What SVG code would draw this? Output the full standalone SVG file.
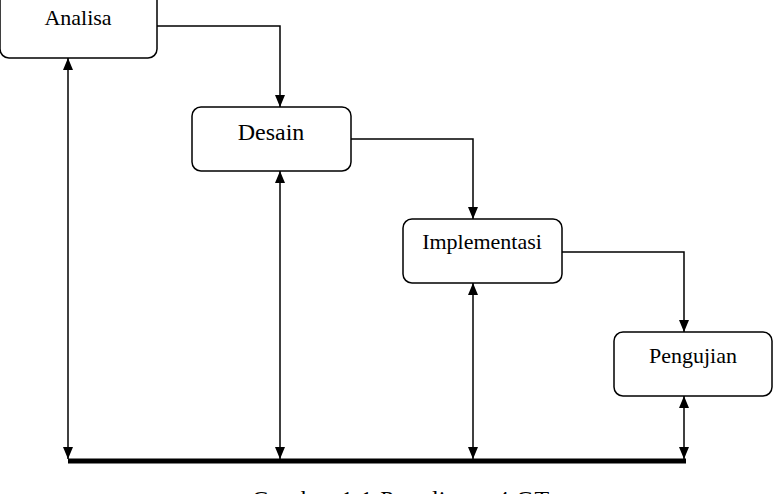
<svg xmlns="http://www.w3.org/2000/svg" width="780" height="494" viewBox="0 0 780 494">
<style>
.box{fill:#fff;stroke:#000;stroke-width:1.5}
.lbl{font-family:"Liberation Serif","Times New Roman",serif;font-size:22px;fill:#000;text-anchor:middle}
.ln{fill:none;stroke:#000;stroke-width:1.5}
</style>
<defs>
<marker id="ah" viewBox="0 0 12 10" refX="12" refY="5" markerWidth="12" markerHeight="10" markerUnits="userSpaceOnUse" orient="auto-start-reverse">
<path d="M0,0 L12,5 L0,10 Z" fill="#000"/>
</marker>
</defs>
<rect width="780" height="494" fill="#fff"/>
<g id="connectors">
<path class="ln" d="M157,26 H280 V107" marker-end="url(#ah)"/>
<path class="ln" d="M351,139 H473 V219" marker-end="url(#ah)"/>
<path class="ln" d="M562,252 H684 V332" marker-end="url(#ah)"/>
<line class="ln" x1="68" y1="58" x2="68" y2="459" marker-start="url(#ah)" marker-end="url(#ah)"/>
<line class="ln" x1="280" y1="171" x2="280" y2="459" marker-start="url(#ah)" marker-end="url(#ah)"/>
<line class="ln" x1="473" y1="283" x2="473" y2="459" marker-start="url(#ah)" marker-end="url(#ah)"/>
<line class="ln" x1="684" y1="396" x2="684" y2="459" marker-start="url(#ah)" marker-end="url(#ah)"/>
<line x1="68" y1="461" x2="686" y2="461" stroke="#000" stroke-width="5"/>
</g>
<g id="analisa">
<rect class="box" x="0" y="-10" width="157" height="68" rx="9"/>
<text class="lbl" x="78" y="25">Analisa</text>
</g>
<g id="desain">
<rect class="box" x="192" y="107" width="159" height="64" rx="9"/>
<text class="lbl" x="271" y="140" style="font-size:24px">Desain</text>
</g>
<g id="implementasi">
<rect class="box" x="403" y="219" width="159" height="64" rx="9"/>
<text class="lbl" x="482" y="249">Implementasi</text>
</g>
<g id="pengujian">
<rect class="box" x="614" y="332" width="158" height="64" rx="9"/>
<text class="lbl" x="693" y="363">Pengujian</text>
</g>
<text class="lbl" x="401" y="507" style="font-size:24px;letter-spacing:0.8px">Gambar 1.1 Paradigma 4 GT</text>
</svg>
